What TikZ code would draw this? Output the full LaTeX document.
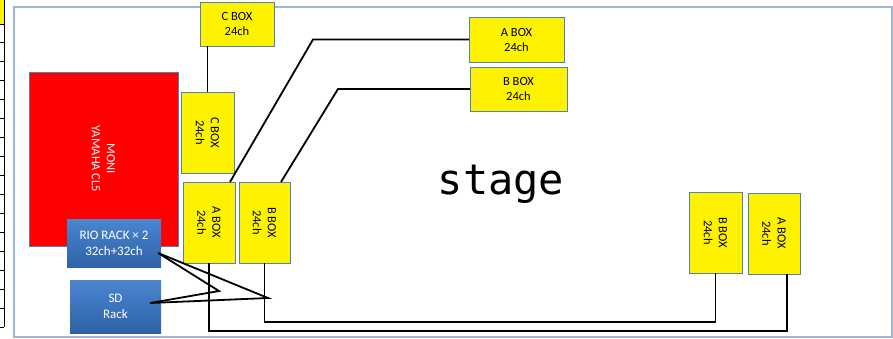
\documentclass[tikz,border=0pt]{standalone}
\usepackage{fontspec}
\setmainfont{Carlito}
\newfontfamily\stagefont{DejaVu Sans Mono}
\usepackage{tikz}
\usetikzlibrary{positioning, calc}
\definecolor{boxedge}{HTML}{4F81BD}
\definecolor{frameedge}{HTML}{9DB7DA}
\definecolor{racktop}{HTML}{4A86CF}
\definecolor{rackbottom}{HTML}{2E62A8}
\tikzset{yellow box/.style={draw=boxedge, line width=0.8pt, fill=yellow, align=center, inner sep=0pt, outer sep=0pt, font=\fontsize{12.5}{15}\selectfont}}
\tikzset{yellow box turned/.style={yellow box, rotate=-90, minimum width=81pt, minimum height=52pt}}
\tikzset{rack box/.style={draw=none, top color=racktop, bottom color=rackbottom, text=white, align=center, inner sep=0pt, font=\fontsize{13}{16}\selectfont}}
\tikzset{cable/.style={draw=black, line width=1.8pt}}

\begin{document}
\begin{tikzpicture}[x=1pt, y=-1pt]
\useasboundingbox (0,0) rectangle (893,338);
% table edge on the left
\fill[yellow] (0,0) rectangle (4,24);
\draw[line width=1pt] (4,0) -- (4,327);
\foreach \k in {0,...,16} \draw[line width=1pt] (0,{24+18.94*\k}) -- (4,{24+18.94*\k});
% stage outline
\draw[frameedge, line width=1.5pt] (14,7) rectangle (892,337);
\node[anchor=base] (stage) at (501,194) {\stagefont\fontsize{42}{42}\selectfont stage};
% mixer and racks
\node[draw=boxedge, line width=0.6pt, fill=red, minimum width=174pt, minimum height=149pt, rotate=-90, text=white, align=center, font=\fontsize{12.5}{15}\selectfont] (moni) at (103.5,159) {MONI\\YAMAHA CL5};
\node[rack box, minimum width=94pt, minimum height=48pt] (rio) at (114,243) {RIO RACK × 2\\32ch+32ch};
\node[rack box, minimum width=91pt, minimum height=53pt] (sd) at (115.5,306.5) {SD\\Rack};
% stage boxes
\node[yellow box, minimum width=74pt, minimum height=44pt] (cboxtop) at (237,24) {C BOX\\24ch};
\node[yellow box turned, minimum height=53pt] (cboxside) at (207.5,132.5) {C BOX\\24ch};
\node[yellow box turned] (aboxl) at (209,222.5) {A BOX\\24ch};
\node[yellow box turned, minimum height=51pt] (bboxl) at (264.5,222.5) {B BOX\\24ch};
\node[yellow box, minimum width=95pt, minimum height=45pt] (aboxtop) at (516.5,39.5) {A BOX\\24ch};
\node[yellow box, minimum width=97pt, minimum height=44pt] (bboxtop) at (518.5,89) {B BOX\\24ch};
\node[yellow box turned, minimum height=53pt] (bboxr) at (715.5,232.5) {B BOX\\24ch};
\node[yellow box turned] (aboxr) at (774,233.5) {A BOX\\24ch};
% cable runs
\coordinate (aturn) at (313,39.5);
\coordinate (bturn) at (338,89);
\coordinate (j1) at (219,291);
\coordinate (j2) at (268,298);
\coordinate (rioout) at ([xshift=-3pt, yshift=-10pt]rio.east);
\coordinate (sdout) at ([xshift=-11pt, yshift=3.5pt]sd.east);
\draw[cable] (cboxside.west) -- (cboxside.west |- cboxtop.south);
\draw[cable] ([xshift=-5pt]aboxl.north west) -- (aturn) -- (aboxtop.west);
\draw[cable] ([xshift=-9pt]bboxl.north west) -- (bturn) -- (bboxtop.west);
\draw[cable] (aboxl.east) -- ++(0,68) -| ([xshift=-13pt]aboxr.north east);
\draw[cable] (bboxl.east) -- ++(0,59) -| (bboxr.east);
\draw[cable] (rioout) -- (j1) -- (sdout);
\draw[cable] (rioout) -- (j2) -- (sdout);
\end{tikzpicture}
\end{document}
